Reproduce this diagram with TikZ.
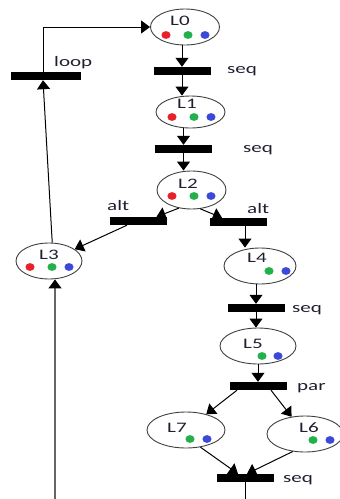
\documentclass[tikz,border=0pt]{standalone}
\usepackage{fontspec}
\setmainfont{Carlito}
\usetikzlibrary{arrows.meta,shapes.geometric}
\definecolor{tokred}{HTML}{E8202A}
\definecolor{tokgreen}{HTML}{22B04A}
\definecolor{tokblue}{HTML}{3C48D8}
\definecolor{txt}{HTML}{1E2030}
\newcommand{\lab}[1]{\scalebox{1.45}[1]{#1}}
\begin{document}
\begin{tikzpicture}[x=1pt,y=-1pt,
  place/.style={draw=black!75, line width=0.9pt, ellipse, inner sep=0pt},
  bar/.style={fill=black, draw=none, rectangle, minimum width=57pt, minimum height=8pt, inner sep=0pt},
  lbl/.style={anchor=base west, inner sep=0pt, text=txt, font=\fontsize{14.5}{15}\selectfont},
  arr/.style={line width=1pt, -{Triangle[length=9pt,width=13pt,color=black]}},
  ln/.style={line width=1pt},
  tr/.style={fill=tokred}, tg/.style={fill=tokgreen}, tb/.style={fill=tokblue}]
\useasboundingbox (0,0) rectangle (340,499);

% places
\node[place, minimum width=69pt, minimum height=36pt] (L0) at (185,27) {};
\node[place, minimum width=69pt, minimum height=32pt] (L1) at (190.5,112) {};
\node[place, minimum width=69pt, minimum height=38pt] (L2) at (191.5,190) {};
\node[place, minimum width=66pt, minimum height=36pt] (L3) at (49,261) {};
\node[place, minimum width=72pt, minimum height=36pt] (L4) at (260,266) {};
\node[place, minimum width=76pt, minimum height=36pt] (L5) at (258,346) {};
\node[place, minimum width=78pt, minimum height=36pt] (L7) at (186,430) {};
\node[place, minimum width=76pt, minimum height=36pt] (L6) at (305,434) {};

% bars
\node[bar] (s1) at (182,71) {};
\node[bar] (s2) at (183.5,149) {};
\node[bar] (a1) at (138.5,221) {};
\node[bar] (a2) at (238,222) {};
\node[bar] (s3) at (256,308) {};
\node[bar] (p) at (258,386) {};
\node[bar] (f) at (245,478) {};
\node[bar, minimum width=70pt] (lb) at (46,76) {};

% place labels
\node[lbl] (tL0) at (170,25.7) {\lab{L0}};
\node[lbl] (tL1) at (177,108) {\lab{L1}};
\node[lbl] (tL2) at (178,188) {\lab{L2}};
\node[lbl] (tL3) at (39,259) {\lab{L3}};
\node[lbl] (tL4) at (247,262) {\lab{L4}};
\node[lbl] (tL5) at (243,348) {\lab{L5}};
\node[lbl] (tL7) at (167,432) {\lab{L7}};
\node[lbl] (tL6) at (299,432) {\lab{L6}};

% bar labels
\node[lbl] (tloop) at (54,66.7) {\lab{loop}};
\node[lbl] (tseq1) at (227,73) {\lab{seq}};
\node[lbl] (tseq2) at (243,152) {\lab{seq}};
\node[lbl] (talt1) at (107,210.7) {\lab{alt}};
\node[lbl] (talt2) at (247,213) {\lab{alt}};
\node[lbl] (tseq3) at (292,312) {\lab{seq}};
\node[lbl] (tpar) at (297,390) {\lab{par}};
\node[lbl] (tseq4) at (283,482) {\lab{seq}};

% tokens
\fill[tr] (166,35) ellipse (4.6 and 3.9);
\fill[tg] (188,35) ellipse (4.6 and 3.9);
\fill[tb] (205,35) ellipse (4.6 and 3.9);
\fill[tr] (172,117) ellipse (4.6 and 3.9);
\fill[tg] (194,117) ellipse (4.6 and 3.9);
\fill[tb] (211,117) ellipse (4.6 and 3.9);
\fill[tr] (172,196) ellipse (4.6 and 3.9);
\fill[tg] (194,196) ellipse (4.6 and 3.9);
\fill[tb] (211,196) ellipse (4.6 and 3.9);
\fill[tr] (30,267) ellipse (4.6 and 3.9);
\fill[tg] (52,267) ellipse (4.6 and 3.9);
\fill[tb] (69,267) ellipse (4.6 and 3.9);
\fill[tg] (269,271) ellipse (4.6 and 3.9);
\fill[tb] (286,271) ellipse (4.6 and 3.9);
\fill[tg] (262,356) ellipse (4.6 and 3.9);
\fill[tb] (278,356) ellipse (4.6 and 3.9);
\fill[tg] (190,439) ellipse (4.6 and 3.9);
\fill[tb] (207,439) ellipse (4.6 and 3.9);
\fill[tg] (313,440) ellipse (4.6 and 3.9);
\fill[tb] (330,440) ellipse (4.6 and 3.9);

% connectors
\draw[arr] (L0.south -| s1) -- (s1.north);
\draw[arr] (s1.south) -- (L1.north -| s1);
\draw[arr] (L1.south -| s2) -- (s2.north);
\draw[arr] (s2.south) -- (L2.north -| s2);
\draw[arr] (L2.235) -- ([xshift=18pt]a1.north);
\draw[arr] ([xshift=-11.5pt]a1.south) -- (L3);
\draw[arr] (L2.-65) -- ([xshift=-16pt]a2.north);
\draw[arr] ([xshift=7pt]a2.south) -- ([xshift=7pt]a2.south |- L4.north);
\draw[arr] (L4.south -| s3) -- (s3.north);
\draw[arr] (s3.south) -- (L5.north -| s3);
\draw[arr] (L5.south -| p) -- (p.north);
\draw[arr] ([xshift=-21pt]p.south) -- (L7);
\draw[arr] ([xshift=13pt]p.south) -- (L6);
\draw[arr] (L7.-50) -- ([xshift=-7pt]f.north);
\draw[arr] (L6.-125) -- ([xshift=2pt]f.north);
\coordinate (fb) at (245,499);
\draw[ln] (f.south) -- (fb);
\coordinate (b3) at (55,499);
\draw[arr, draw=black!60, line width=1.4pt] (b3) -- (b3 |- L3.south);
\draw[arr] (L3.80) -- ([xshift=-3pt]lb.south);
\draw[arr] ([xshift=-3pt]lb.north) |- (L0.west);
\end{tikzpicture}
\end{document}
